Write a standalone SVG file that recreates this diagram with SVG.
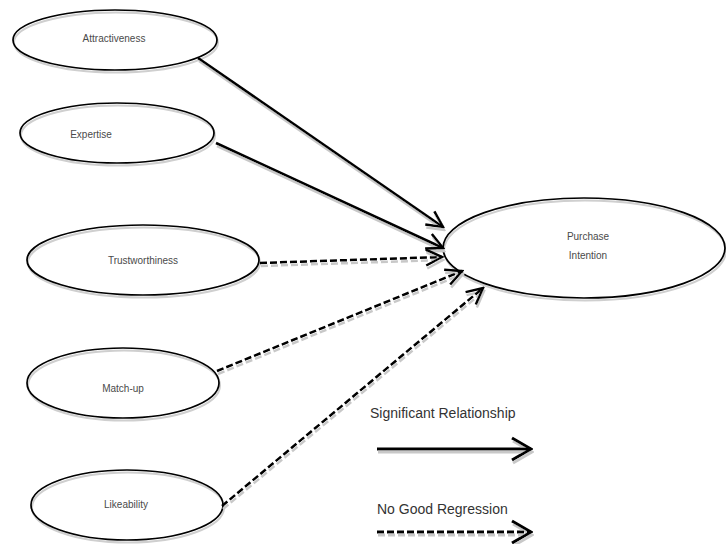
<svg xmlns="http://www.w3.org/2000/svg" width="726" height="544" viewBox="0 0 726 544">
<style>
.bg{fill:#fff;stroke:none}
.sh{fill:none;stroke:#cfcfcf;stroke-width:2}
.ol{fill:none;stroke:#000;stroke-width:1.7}
.lbl{font-family:"Liberation Sans",Arial,sans-serif;font-size:10px;fill:#4a4a4a;text-anchor:middle}
.leg{font-family:"Liberation Sans",Arial,sans-serif;font-size:14px;fill:#333}
.c{fill:none;stroke:#000;stroke-width:2.5;filter:url(#lsh)}
.d{stroke-dasharray:7 3}
.lg{fill:none;stroke:#000;stroke-width:3;filter:url(#lsh)}
</style>
<defs>
<filter id="lsh" filterUnits="userSpaceOnUse" x="0" y="0" width="726" height="544">
<feOffset in="SourceAlpha" dx="1" dy="3" result="o"/>
<feFlood flood-color="#c8c8c8"/>
<feComposite in2="o" operator="in"/>
<feGaussianBlur stdDeviation="0.5"/>
<feMerge><feMergeNode/><feMergeNode in="SourceGraphic"/></feMerge>
</filter>
<marker id="ah" markerUnits="userSpaceOnUse" viewBox="-20 -10 22 20" refX="0" refY="0" markerWidth="22" markerHeight="20" orient="auto">
<path d="M-16,-8 L0,0 L-16,8" fill="none" stroke="#000" stroke-width="2.5"/>
</marker>
<marker id="ahl" markerUnits="userSpaceOnUse" viewBox="-22 -13 24 26" refX="0" refY="0" markerWidth="24" markerHeight="26" orient="auto">
<path d="M-19,-11 L0,0 L-19,11" fill="none" stroke="#000" stroke-width="3"/>
</marker>
</defs>
<rect width="726" height="544" fill="#fff"/>

<g id="attractiveness">
<ellipse class="bg" cx="115" cy="40" rx="102" ry="30"/>
<ellipse class="sh" cx="116" cy="42.5" rx="102" ry="30"/>
<ellipse class="ol" cx="115" cy="40" rx="102" ry="30"/>
<text class="lbl" x="114" y="42">Attractiveness</text>
</g>

<g id="expertise">
<ellipse class="bg" cx="117" cy="133" rx="97" ry="30"/>
<ellipse class="sh" cx="118" cy="135.5" rx="97" ry="30"/>
<ellipse class="ol" cx="117" cy="133" rx="97" ry="30"/>
<text class="lbl" x="91" y="138">Expertise</text>
</g>

<g id="trustworthiness">
<ellipse class="bg" cx="143" cy="260" rx="116" ry="35"/>
<ellipse class="sh" cx="144" cy="262.5" rx="116" ry="35"/>
<ellipse class="ol" cx="143" cy="260" rx="116" ry="35"/>
<text class="lbl" x="143" y="264">Trustworthiness</text>
</g>

<g id="matchup">
<ellipse class="bg" cx="123" cy="383" rx="96" ry="35"/>
<ellipse class="sh" cx="124" cy="385.5" rx="96" ry="35"/>
<ellipse class="ol" cx="123" cy="383" rx="96" ry="35"/>
<text class="lbl" x="123" y="392">Match-up</text>
</g>

<g id="likeability">
<ellipse class="bg" cx="127" cy="505" rx="96" ry="35"/>
<ellipse class="sh" cx="128" cy="507.5" rx="96" ry="35"/>
<ellipse class="ol" cx="127" cy="505" rx="96" ry="35"/>
<text class="lbl" x="126" y="508">Likeability</text>
</g>

<g id="purchase-intention">
<ellipse class="bg" cx="584" cy="248" rx="141" ry="50"/>
<ellipse class="sh" cx="585" cy="250.5" rx="141" ry="50"/>
<ellipse class="ol" cx="584" cy="248" rx="141" ry="50"/>
<text class="lbl" x="588" y="240">Purchase</text>
<text class="lbl" x="588" y="259">Intention</text>
</g>

<g id="connectors">
<line class="c" x1="198" y1="58" x2="443" y2="227" marker-end="url(#ah)"/>
<line class="c" x1="216" y1="143" x2="443" y2="248" marker-end="url(#ah)"/>
<line class="c d" x1="260" y1="263" x2="442" y2="257" marker-end="url(#ah)"/>
<line class="c d" x1="217" y1="371" x2="462" y2="271" marker-end="url(#ah)"/>
<line class="c d" x1="222" y1="506" x2="483" y2="288" marker-end="url(#ah)"/>
</g>

<g id="legend">
<text class="leg" x="370" y="418">Significant Relationship</text>
<line class="lg" x1="377" y1="449" x2="531" y2="449" marker-end="url(#ahl)"/>
<text class="leg" x="377" y="514">No Good Regression</text>
<line class="lg d" x1="377" y1="532" x2="531" y2="532" marker-end="url(#ahl)"/>
</g>
</svg>
